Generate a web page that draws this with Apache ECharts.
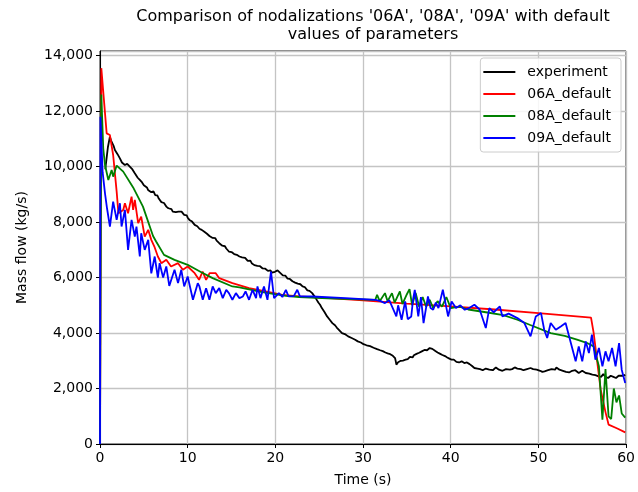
<!DOCTYPE html>
<html><head><meta charset="utf-8">
<script src="https://cdn.jsdelivr.net/npm/echarts@6/dist/echarts.min.js"></script>
<style>html,body{margin:0;padding:0;background:#fff}#c{width:638px;height:492px}</style>
</head><body><div id="c"></div>
<script>
const titleLines = ["Comparison of nodalizations '06A', '08A', '09A' with default", "values of parameters"];
const seriesNames = ["experiment", "06A_default", "08A_default", "09A_default"];
const xTicks = [0, 10, 20, 30, 40, 50, 60];
const yTicks = [0, 2000, 4000, 6000, 8000, 10000, 12000, 14000];

const experiment = [[0.6,9900],[0.75,10300],[0.9,10700],[1.13,11080],[1.25,10950],[1.4,10980],[1.55,10750],[1.7,10600],[1.85,10620],[2.0,10450],[2.15,10480],[2.27,10300],[2.4,10340],[2.5,10150],[2.65,10180],[2.84,10060],[2.95,10000],[3.1,10100],[3.25,10030],[3.4,10000],[3.55,10040],[3.7,9900],[3.85,9840],[3.97,9760],[4.1,9790],[4.3,9600],[4.4,9660],[4.54,9520],[4.65,9560],[4.8,9430],[4.9,9480],[5.0,9330],[5.1,9400],[5.2,9380],[5.35,9250],[5.48,9160],[5.6,9220],[5.7,9120],[5.85,9080],[6.0,9050],[6.1,9110],[6.2,9080],[6.3,8970],[6.43,8920],[6.55,8960],[6.7,8850],[6.85,8800],[7.0,8720],[7.15,8760],[7.3,8690],[7.45,8620],[7.56,8560],[7.7,8600],[7.8,8500],[7.9,8520],[8.0,8450],[8.15,8470],[8.3,8380],[8.4,8430],[8.5,8420],[8.65,8360],[8.8,8400],[8.95,8380],[9.1,8340],[9.3,8380],[9.45,8320],[9.6,8260],[9.8,8200],[9.9,8240],[10.0,8160],[10.1,8180],[10.2,8080],[10.35,8100],[10.5,8020],[10.65,7980],[10.8,7900],[10.95,7940],[11.1,7850],[11.2,7820],[11.34,7760],[11.45,7790],[11.6,7720],[11.75,7700],[11.9,7650],[12.05,7620],[12.2,7580],[12.35,7600],[12.48,7500],[12.6,7520],[12.7,7470],[12.85,7430],[13.0,7400],[13.15,7420],[13.3,7330],[13.45,7300],[13.6,7240],[13.7,7270],[13.8,7220],[13.95,7150],[14.1,7100],[14.25,7130],[14.4,7050],[14.55,6990],[14.7,6940],[14.85,6980],[15.0,6920],[15.15,6880],[15.3,6850],[15.45,6880],[15.6,6820],[15.75,6790],[15.9,6760],[16.05,6800],[16.2,6730],[16.3,6700],[16.4,6680],[16.55,6710],[16.7,6640],[16.85,6600],[17.0,6580],[17.15,6610],[17.3,6520],[17.45,6490],[17.6,6450],[17.7,6480],[17.8,6460],[17.95,6420],[18.1,6400],[18.25,6410],[18.4,6360],[18.55,6330],[18.7,6300],[18.85,6320],[19.0,6280],[19.15,6240],[19.3,6220],[19.45,6260],[19.6,6180],[19.7,6220],[19.8,6250],[19.95,6210],[20.1,6200],[20.25,6260],[20.4,6220],[20.55,6170],[20.7,6120],[20.85,6080],[21.0,6050],[21.15,6070],[21.3,6010],[21.4,5960],[21.5,5920],[21.65,5950],[21.8,5900],[21.95,5870],[22.1,5850],[22.25,5820],[22.4,5800],[22.55,5780],[22.7,5740],[22.85,5760],[23.0,5700],[23.1,5680],[23.2,5650],[23.35,5660],[23.5,5600],[23.65,5540],[23.8,5500],[23.9,5520],[24.0,5480],[24.1,5500],[24.2,5440],[24.3,5400],[24.4,5350],[24.5,5320],[24.6,5260],[24.75,5180],[24.9,5100],[25.1,5020],[25.3,4900],[25.45,4850],[25.6,4760],[25.75,4700],[25.9,4600],[26.05,4560],[26.2,4480],[26.35,4420],[26.5,4360],[26.65,4320],[26.8,4280],[26.9,4250],[27.0,4200],[27.15,4170],[27.3,4100],[27.45,4060],[27.6,4000],[27.8,3990],[28.0,3950],[28.15,3920],[28.3,3880],[28.5,3860],[28.7,3820],[28.9,3800],[29.1,3760],[29.25,3740],[29.4,3700],[29.5,3680],[29.6,3650],[29.75,3660],[29.9,3610],[30.05,3600],[30.2,3580],[30.4,3560],[30.6,3520],[30.8,3530],[31.0,3480],[31.2,3470],[31.4,3450],[31.6,3420],[31.8,3400],[31.95,3380],[32.1,3360],[32.25,3350],[32.4,3330],[32.55,3300],[32.7,3300],[32.8,3270],[32.9,3280],[33.0,3250],[33.1,3240],[33.2,3220],[33.3,3200],[33.4,3180],[33.5,3150],[33.6,3130],[33.65,3100],[33.75,2950],[33.8,2860],[33.9,2900],[34.0,2950],[34.1,2880],[34.2,2920],[34.3,3000],[34.4,3040],[34.55,3010],[34.7,3060],[34.85,3040],[35.0,3100],[35.1,3060],[35.2,3080],[35.35,3140],[35.5,3160],[35.65,3120],[35.8,3200],[35.95,3220],[36.1,3250],[36.25,3230],[36.4,3290],[36.55,3310],[36.7,3340],[36.8,3320],[36.9,3360],[37.0,3390],[37.1,3400],[37.2,3370],[37.3,3380],[37.45,3430],[37.6,3460],[37.75,3420],[37.9,3430],[38.0,3390],[38.1,3380],[38.25,3350],[38.4,3340],[38.5,3300],[38.6,3280],[38.75,3260],[38.9,3230],[39.05,3210],[39.2,3180],[39.35,3170],[39.5,3140],[39.6,3120],[39.7,3100],[39.85,3080],[40.0,3070],[40.1,3040],[40.2,3020],[40.35,3040],[40.5,3000],[40.65,2960],[40.8,2980],[40.95,2940],[41.1,2940],[41.25,2980],[41.4,2960],[41.55,2920],[41.7,2900],[41.85,2940],[42.0,2920],[42.15,2880],[42.3,2860],[42.4,2820],[42.5,2800],[42.6,2760],[42.7,2740],[42.8,2700],[42.9,2680],[43.05,2720],[43.2,2760],[43.35,2700],[43.5,2720],[43.65,2660],[43.8,2680],[44.0,2720],[44.2,2740],[44.4,2680],[44.6,2700],[44.8,2660],[45.0,2700],[45.15,2760],[45.3,2740],[45.5,2680],[45.7,2680],[45.9,2640],[46.1,2660],[46.3,2700],[46.5,2720],[46.75,2680],[47.0,2700],[47.15,2740],[47.3,2760],[47.45,2700],[47.6,2720],[47.8,2680],[48.0,2700],[48.15,2640],[48.3,2660],[48.5,2720],[48.7,2700],[48.9,2760],[49.1,2740],[49.25,2680],[49.4,2700],[49.6,2640],[49.8,2680],[50.0,2620],[50.2,2640],[50.45,2600],[50.7,2620],[50.9,2680],[51.1,2660],[51.3,2720],[51.5,2700],[51.7,2640],[51.9,2680],[52.05,2760],[52.2,2740],[52.4,2680],[52.6,2700],[52.8,2640],[53.0,2660],[53.15,2600],[53.3,2620],[53.5,2580],[53.7,2560],[53.85,2640],[54.0,2600],[54.2,2660],[54.4,2620],[54.6,2560],[54.8,2580],[55.0,2640],[55.2,2620],[55.4,2560],[55.6,2600],[55.8,2540],[56.0,2560],[56.15,2500],[56.3,2540],[56.5,2480],[56.7,2500],[56.85,2440],[57.0,2480],[57.15,2420],[57.3,2460],[57.4,2520],[57.5,2500],[57.65,2420],[57.8,2440],[57.95,2380],[58.1,2400],[58.25,2460],[58.4,2480],[58.55,2420],[58.7,2440],[58.85,2380],[59.0,2440],[59.15,2460],[59.3,2400],[59.4,2460],[59.5,2500],[59.6,2420],[59.7,2460],[59.8,2520],[59.9,2500]];

const s06A = [[0,0],[0.15,13550],[0.76,11200],[1.13,11140],[1.5,10420],[1.9,9100],[2.1,8320],[2.65,8440],[2.84,8680],[3.2,8320],[3.6,8920],[3.78,8440],[3.97,8800],[4.35,7960],[4.7,8200],[5.1,7480],[5.5,7720],[5.85,7360],[6.2,7120],[6.6,6760],[7.0,6520],[7.56,6640],[8.1,6400],[8.9,6520],[9.45,6280],[10.0,6400],[10.8,6160],[11.3,5920],[11.7,6220],[12.1,5920],[12.5,6160],[13.2,6160],[13.6,5980],[15.1,5800],[17.0,5620],[18.9,5500],[20.8,5380],[22.7,5320],[26.1,5260],[30,5180],[35,5060],[40,4960],[45,4850],[50,4720],[56.0,4560],[56.3,4010],[57.1,1960],[57.65,1150],[58.0,700],[59.0,560],[59.9,420]];

const s08A = [[0,0],[0.15,12600],[0.37,10660],[0.57,10060],[0.76,10000],[0.95,9520],[1.33,9880],[1.5,9640],[1.9,10040],[2.65,9820],[3.78,9250],[4.9,8560],[6.05,7500],[6.4,7300],[7.3,6820],[8.5,6640],[10.0,6460],[11.5,6200],[12.85,5980],[15.1,5680],[15.9,5650],[18.5,5480],[21.2,5340],[22.7,5300],[26,5250],[31.4,5200],[31.6,5380],[31.9,5150],[32.5,5440],[32.8,5150],[33.3,5440],[33.6,5100],[34.2,5500],[34.5,5050],[35.0,5400],[35.3,5585],[35.6,5000],[36.0,5450],[36.4,4950],[36.8,5300],[37.2,4950],[37.6,5200],[38.0,4900],[38.5,5150],[39.0,4950],[39.5,5300],[40.0,4900],[41.0,4950],[42.0,4850],[44,4750],[46,4650],[47.6,4480],[49,4300],[51.4,4000],[53,3900],[54.4,3760],[55.5,3650],[56.3,3520],[56.9,2800],[57.3,880],[57.65,2700],[58.0,1000],[58.3,900],[58.6,2000],[58.9,1500],[59.2,1750],[59.5,1100],[59.9,950]];

const s09A = [[0,0],[0.05,11800],[0.3,9800],[0.57,9040],[0.8,8500],[1.13,7840],[1.5,8740],[1.9,8080],[2.27,8680],[2.46,7840],[2.84,8440],[3.2,7000],[3.6,8080],[3.97,7480],[4.16,7840],[4.54,6760],[4.7,7600],[5.1,7000],[5.5,7360],[5.85,6150],[6.24,6760],[6.6,6000],[6.8,6520],[7.2,6000],[7.56,6400],[7.9,5700],[8.5,6280],[8.9,5800],[9.27,6280],[9.6,5680],[10.0,6040],[10.6,5200],[11.15,5800],[11.34,5680],[11.72,5200],[12.1,5620],[12.48,5200],[12.85,5680],[13.2,5440],[13.6,5620],[14.0,5260],[14.4,5560],[14.7,5440],[15.1,5200],[15.5,5440],[15.9,5260],[16.3,5320],[16.6,5500],[17.0,5200],[17.4,5560],[17.8,5260],[17.96,5680],[18.3,5260],[18.7,5680],[19.1,5200],[19.5,6220],[19.85,5260],[20.4,5440],[20.8,5300],[21.2,5560],[21.5,5320],[22.1,5330],[22.5,5560],[22.8,5320],[24.2,5318],[28.0,5260],[31.4,5200],[32.0,5150],[32.5,5080],[33.0,5180],[33.8,4600],[34.0,5000],[34.4,4480],[34.8,5140],[35.1,4500],[35.5,4600],[35.7,5200],[35.9,5560],[36.3,4600],[36.6,5300],[36.9,4360],[37.4,5318],[37.7,4900],[38.0,4840],[38.3,5100],[38.6,4900],[39.1,5560],[39.7,4600],[40.1,5140],[40.6,4900],[41.1,5000],[41.6,4840],[42.1,4900],[42.7,5020],[43.3,4850],[44.0,4180],[44.4,4900],[44.9,4750],[45.6,4960],[45.9,4600],[46.6,4700],[47.6,4540],[48.4,4360],[49.1,3880],[49.7,4600],[50.3,4720],[50.66,4120],[51.0,3820],[51.4,4360],[51.98,4120],[52.55,4240],[53.1,4360],[53.7,3640],[54.25,2980],[54.6,3520],[55.0,2980],[55.4,3700],[55.76,3280],[56.1,3940],[56.5,3040],[56.9,3460],[57.3,2800],[57.65,3340],[58.0,2980],[58.4,3460],[58.8,2800],[59.2,3640],[59.5,2680],[59.9,2200]];

const colors = ['#000000', '#ff0000', '#008000', '#0000ff'];
const dataList = [experiment, s06A, s08A, s09A];

const chart = echarts.init(document.getElementById('c'), null, {renderer: 'canvas'});
const font = 'DejaVu Sans';
chart.setOption({
  animation: false,
  backgroundColor: '#fff',
  title: {
    text: titleLines.join('\n'),
    left: 368, top: 3, textAlign: 'center',
    textStyle: {fontFamily: font, fontSize: 16, fontWeight: 'normal', color: '#000', lineHeight: 18}
  },
  legend: {
    orient: 'vertical', right: 17, top: 58,
    data: seriesNames,
    icon: 'rect', itemWidth: 32, itemHeight: 2, itemGap: 6,
    padding: [6, 10, 6, 3],
    backgroundColor: 'rgba(255,255,255,0.85)', borderColor: '#cccccc', borderWidth: 1, borderRadius: 3,
    textStyle: {fontFamily: font, fontSize: 14, color: '#000', lineHeight: 16, padding: [0, 0, 0, 7]}
  },
  grid: {left: 100, right: 9, top: 51, height: 393.3, show: true, borderColor: '#000', borderWidth: 1, backgroundColor: 'transparent'},
  xAxis: {
    type: 'value', min: xTicks[0], max: xTicks[xTicks.length - 1], interval: 10,
    name: 'Time (s)', nameLocation: 'middle', nameGap: 29,
    nameTextStyle: {fontFamily: font, fontSize: 14, color: '#000'},
    axisLine: {show: true, onZero: false, lineStyle: {color: '#000', width: 1}},
    axisTick: {show: true, length: 4, lineStyle: {color: '#000'}},
    axisLabel: {fontFamily: font, fontSize: 14, color: '#000', margin: 7},
    splitLine: {show: true, lineStyle: {color: '#c4c4c4', width: 1.3}}
  },
  yAxis: {
    type: 'value', min: yTicks[0], max: 14170, interval: 2000,
    name: 'Mass flow (kg/s)', nameLocation: 'middle', nameGap: 71, nameRotate: 90,
    nameTextStyle: {fontFamily: font, fontSize: 14, color: '#000'},
    axisLine: {show: true, onZero: false, lineStyle: {color: '#000', width: 1}},
    axisTick: {show: true, length: 4, lineStyle: {color: '#000'}},
    axisLabel: {fontFamily: font, fontSize: 14, color: '#000', margin: 7, showMaxLabel: false,
      formatter: v => (yTicks.indexOf(v) >= 0 ? v.toLocaleString('en-US') : '')},
    splitLine: {show: true, lineStyle: {color: '#c4c4c4', width: 1.3}}
  },
  series: seriesNames.map((n, i) => ({
    name: n, type: 'line', data: dataList[i], showSymbol: false, symbol: 'none',
    lineStyle: {color: colors[i], width: 1.8}, itemStyle: {color: colors[i]},
    clip: true, z: 2 + i
  }))
});
</script></body></html>
